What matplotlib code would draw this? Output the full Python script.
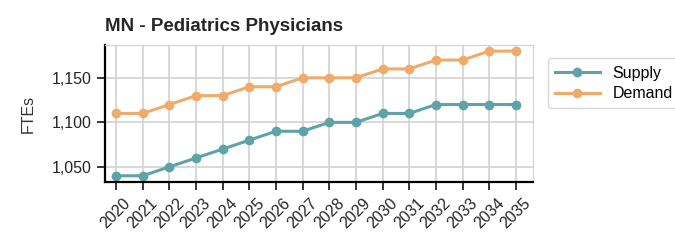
import matplotlib
matplotlib.use("Agg")
import matplotlib.pyplot as plt

years = list(range(2020, 2036))
supply = [1040, 1040, 1050, 1060, 1070, 1080, 1090, 1090, 1100, 1100, 1110, 1110, 1120, 1120, 1120, 1120]
demand = [1110, 1110, 1120, 1130, 1130, 1140, 1140, 1150, 1150, 1150, 1160, 1160, 1170, 1170, 1180, 1180]
yticks = [1050, 1100, 1150]

plt.rcParams['font.family'] = ['Liberation Sans', 'DejaVu Sans']

fig = plt.figure(figsize=(6.75, 2.44), dpi=100)
ax = fig.add_axes([0.156, 0.254, 0.634, 0.562])

ax.plot(years, supply, color='#5ea3a8', marker='o', markersize=6, linewidth=2.2, label='Supply')
ax.plot(years, demand, color='#eeab6c', marker='o', markersize=6, linewidth=2.2, label='Demand')

ax.set_xlim(2019.6, 2035.65)
ax.set_xticks(years)
ax.set_xticklabels([str(y) for y in years], rotation=45, fontsize=11.5)
ax.set_yticks(yticks)
ax.set_yticklabels(['{:,}'.format(v) for v in yticks], fontsize=11.5)
ax.set_ylabel('FTEs', fontsize=11.5, color='#333333', labelpad=12)
ax.grid(True, color='#d2d2d2', linewidth=1.2)
ax.set_axisbelow(True)

for s in ['top', 'right']:
    ax.spines[s].set_color('#d2d2d2')
for s in ['left', 'bottom']:
    ax.spines[s].set_color('black')
    ax.spines[s].set_linewidth(1.6)
ax.tick_params(axis='both', length=6, width=1.3, colors='#262626')

ax.set_title('MN - Pediatrics Physicians', loc='left', fontsize=13.5, fontweight='bold', color='#262626', pad=10)

ax.legend(loc='upper left', bbox_to_anchor=(1.015, 0.96), fontsize=11.5, frameon=True,
          edgecolor='#d0d0d0', handlelength=2.8, borderpad=0.45, labelspacing=0.35)

fig.savefig('out.png', dpi=100)
